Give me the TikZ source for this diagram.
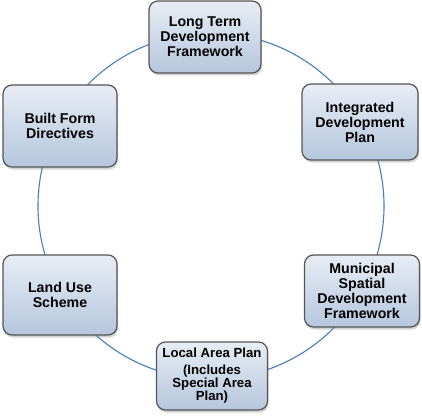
\documentclass[tikz,border=0pt]{standalone}
\usepackage{fontspec}
\setmainfont{Liberation Sans}
\usepackage{tikz}
\definecolor{ringblue}{HTML}{4A7EBB}
\definecolor{boxtop}{HTML}{E8EDF5}
\definecolor{boxbot}{HTML}{B5C6DD}
\definecolor{boxedge}{HTML}{555555}
\usetikzlibrary{shadows}
\tikzstyle{stage} = [draw=boxedge, line width=1.2pt, rounded corners=9pt, top color=boxtop, bottom color=boxbot, align=center, font=\bfseries\fontsize{14.2}{15}\selectfont, minimum width=112pt, minimum height=72pt, inner sep=2pt, drop shadow={shadow xshift=1pt, shadow yshift=-2.5pt, opacity=.35}]
\tikzstyle{ring} = [draw=ringblue, line width=1.1pt]

\begin{document}
\begin{tikzpicture}[x=1pt,y=-1pt]
	\useasboundingbox (0,0) rectangle (422,417);
	% The cycle:
	\coordinate (hub) at (211,206);
	\draw[ring] (hub) circle (173pt);
	% Stages:
	\node[stage] (ltdf) at (205,37) {Long Term\\Development\\Framework};
	\node[stage, minimum width=116pt, minimum height=76pt] (idp) at (360,122) {Integrated\\Development\\Plan};
	\node[stage, minimum width=115pt] (msdf) at (362,291) {Municipal\\Spatial\\Development\\Framework};
	\node[stage, font=\bfseries\fontsize{13.2}{13}\selectfont, minimum width=111pt, minimum height=68pt] (lap) at (212,376) {Local Area Plan\\[4pt](Includes\\Special Area\\Plan)};
	\node[stage, minimum width=114pt, minimum height=80pt] (lus) at (60,295) {Land Use\\Scheme};
	\node[stage, minimum width=114pt, minimum height=82pt] (bfd) at (60,126) {Built Form\\Directives};
\end{tikzpicture}
\end{document}
